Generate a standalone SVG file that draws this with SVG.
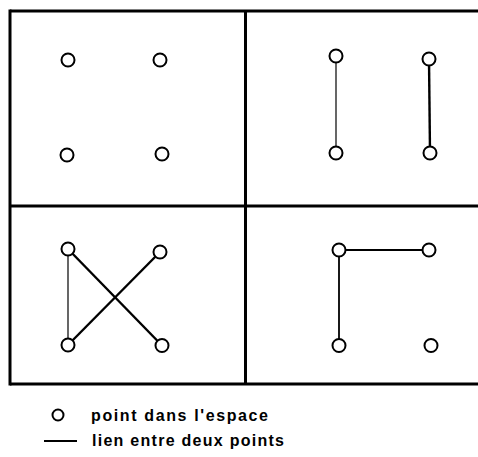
<svg xmlns="http://www.w3.org/2000/svg" width="478" height="457" viewBox="0 0 478 457">
<style>
.pt{fill:#fff;stroke:#000;stroke-width:2}
.frame{stroke:#000;stroke-width:3;fill:none}
.thin{stroke:#000;stroke-width:1.2}
.mid{stroke:#000;stroke-width:1.8}
.thick{stroke:#000;stroke-width:2.4}
.lbl{font-family:"Liberation Sans",Arial,sans-serif;font-weight:bold;font-size:16px;fill:#000}
</style>
<rect width="478" height="457" fill="#fff"/>
<g id="frame">
<line class="frame" x1="10" y1="11" x2="478" y2="11"/>
<line class="frame" x1="10" y1="9.5" x2="10" y2="385.5"/>
<line class="frame" x1="10" y1="384" x2="478" y2="384"/>
<line class="frame" x1="245.5" y1="11" x2="245.5" y2="384"/>
<line class="frame" x1="10" y1="206" x2="478" y2="206"/>
</g>
<g id="connectors">
<line class="thin" x1="336" y1="56" x2="336" y2="153"/>
<line class="thick" x1="429" y1="59" x2="430" y2="153"/>
<line class="thin" x1="68" y1="249" x2="68" y2="345"/>
<line class="thick" x1="68" y1="249" x2="162" y2="345.5"/>
<line class="thick" x1="160" y1="252" x2="68" y2="345"/>
<line class="mid" x1="339" y1="250" x2="429" y2="250"/>
<line class="mid" x1="339" y1="250" x2="339" y2="345.5"/>
</g>
<g id="q1">
<circle id="p1" class="pt" cx="68" cy="60" r="6.5"/>
<circle id="p2" class="pt" cx="160" cy="60" r="6.5"/>
<circle id="p3" class="pt" cx="67" cy="155" r="6.5"/>
<circle id="p4" class="pt" cx="162" cy="154" r="6.5"/>
</g>
<g id="q2">
<circle id="p5" class="pt" cx="336" cy="56" r="6.5"/>
<circle id="p6" class="pt" cx="429" cy="59" r="6.5"/>
<circle id="p7" class="pt" cx="336" cy="153" r="6.5"/>
<circle id="p8" class="pt" cx="430" cy="153" r="6.5"/>
</g>
<g id="q3">
<circle id="p9" class="pt" cx="68" cy="249" r="6.5"/>
<circle id="p10" class="pt" cx="160" cy="252" r="6.5"/>
<circle id="p11" class="pt" cx="68" cy="345" r="6.5"/>
<circle id="p12" class="pt" cx="162" cy="345.5" r="6.5"/>
</g>
<g id="q4">
<circle id="p13" class="pt" cx="339" cy="250" r="6.5"/>
<circle id="p14" class="pt" cx="429" cy="250" r="6.5"/>
<circle id="p15" class="pt" cx="339" cy="345.5" r="6.5"/>
<circle id="p16" class="pt" cx="431" cy="345.5" r="6.5"/>
</g>
<g id="legend">
<circle class="pt" cx="58" cy="415" r="5.5"/>
<text class="lbl" x="91" y="421" textLength="177" lengthAdjust="spacing">point dans l'espace</text>
<line x1="44" y1="441" x2="77" y2="441" stroke="#000" stroke-width="2"/>
<text class="lbl" x="92" y="446" textLength="192" lengthAdjust="spacing">lien entre deux points</text>
</g>
</svg>
